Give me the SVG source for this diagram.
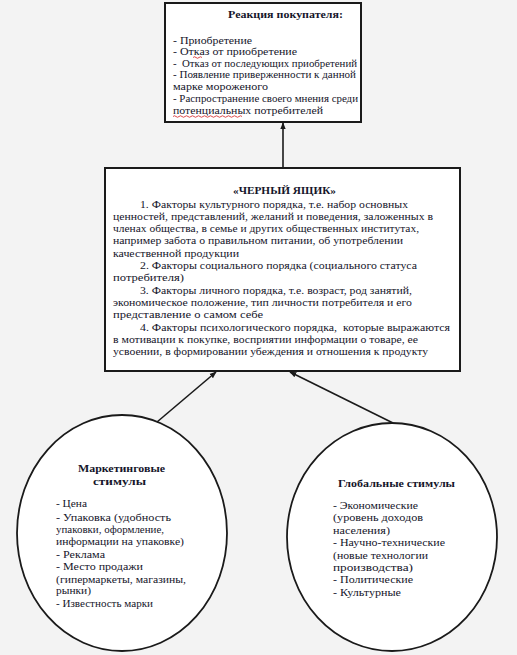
<svg xmlns="http://www.w3.org/2000/svg" width="517" height="655" viewBox="0 0 517 655" font-family="'Liberation Serif','DejaVu Serif',serif">
<defs>
<style>
.bg{fill:#f3f3f3}
.box{fill:#ffffff;stroke:#1a1a1a;stroke-width:2}
.ell{fill:#ffffff;stroke:#1a1a1a;stroke-width:1.8}
text{font-family:'Liberation Serif','DejaVu Serif',serif;font-size:10.5px;fill:#15152a}
.b{font-weight:bold}
.c{text-anchor:middle}
.con{stroke:#1a1a1a;stroke-width:1.6;fill:none;marker-end:url(#ah)}
</style>
<marker id="ah" viewBox="0 0 10 10" refX="9" refY="5" markerWidth="7" markerHeight="7" markerUnits="userSpaceOnUse" orient="auto">
<path d="M0,1 L10,5 L0,9 z" fill="#1a1a1a"/>
</marker>
</defs>
<rect class="bg" x="0" y="0" width="517" height="655"/>

<g id="reaction">
<rect class="box" x="165" y="3" width="196" height="119"/>
<text class="b" x="228" y="18" textLength="115" lengthAdjust="spacingAndGlyphs">Реакция покупателя:</text>
<text x="173" y="44" textLength="79" lengthAdjust="spacingAndGlyphs">- Приобретение</text>
<text x="173" y="55" textLength="124" lengthAdjust="spacingAndGlyphs">- Отказ от приобретение</text>
<text x="173" y="66.5" textLength="184" lengthAdjust="spacingAndGlyphs" xml:space="preserve">-  Отказ от последующих приобретений</text>
<text x="173" y="78" textLength="183" lengthAdjust="spacingAndGlyphs">- Появление приверженности к данной</text>
<text x="173" y="90" textLength="95" lengthAdjust="spacingAndGlyphs">марке мороженого</text>
<text x="173" y="102" textLength="185" lengthAdjust="spacingAndGlyphs">- Распространение своего мнения среди</text>
<text x="173" y="114" textLength="150" lengthAdjust="spacingAndGlyphs">потенциальных потребителей</text>
<path d="M173,116.5 q1.5,-1.5 3,0 t3,0 t3,0 t3,0 t3,0 t3,0 t3,0 t3,0 t3,0 t3,0 t3,0 t3,0 t3,0 t3,0 t3,0 t3,0 t3,0 t3,0 t3,0 t3,0 t3,0 t3,0 t3,0" fill="none" stroke="#d42020" stroke-width="0.8"/>
<path d="M193,57.5 q1.5,-1.5 3,0 t3,0 t3,0" fill="none" stroke="#d42020" stroke-width="0.8"/>
</g>

<g id="blackbox">
<rect class="box" x="105" y="168" width="355" height="203"/>
<text class="b" x="233" y="194" textLength="103" lengthAdjust="spacingAndGlyphs">«ЧЕРНЫЙ ЯЩИК»</text>
<text x="140" y="207.5" textLength="268" lengthAdjust="spacingAndGlyphs">1. Факторы культурного порядка, т.е. набор основных</text>
<text x="113" y="219.8" textLength="320" lengthAdjust="spacingAndGlyphs">ценностей, представлений, желаний и поведения, заложенных в</text>
<text x="113" y="232.1" textLength="306" lengthAdjust="spacingAndGlyphs">членах общества, в семье и других общественных институтах,</text>
<text x="113" y="244.4" textLength="290" lengthAdjust="spacingAndGlyphs">например забота о правильном питании, об употреблении</text>
<text x="113" y="256.7" textLength="126" lengthAdjust="spacingAndGlyphs">качественной продукции</text>
<text x="140" y="269" textLength="277" lengthAdjust="spacingAndGlyphs">2. Факторы социального порядка (социального статуса</text>
<text x="113" y="281.3" textLength="71" lengthAdjust="spacingAndGlyphs">потребителя)</text>
<text x="140" y="293.6" textLength="272" lengthAdjust="spacingAndGlyphs">3. Факторы личного порядка, т.е. возраст, род занятий,</text>
<text x="113" y="305.9" textLength="299" lengthAdjust="spacingAndGlyphs">экономическое положение, тип личности потребителя и его</text>
<text x="113" y="318.2" textLength="150" lengthAdjust="spacingAndGlyphs">представление о самом себе</text>
<text x="140" y="330.5" textLength="310" lengthAdjust="spacingAndGlyphs" xml:space="preserve">4. Факторы психологического порядка,  которые выражаются</text>
<text x="113" y="342.8" textLength="305" lengthAdjust="spacingAndGlyphs">в мотивации к покупке, восприятии информации о товаре, ее</text>
<text x="113" y="355.1" textLength="315" lengthAdjust="spacingAndGlyphs">усвоении, в формировании убеждения и отношения к продукту</text>
</g>

<g id="marketing">
<ellipse class="ell" cx="122" cy="533" rx="105" ry="118"/>
<text class="b" x="78" y="472" textLength="87" lengthAdjust="spacingAndGlyphs">Маркетинговые</text>
<text class="b" x="93" y="485" textLength="53" lengthAdjust="spacingAndGlyphs">стимулы</text>
<text x="56" y="507" textLength="31" lengthAdjust="spacingAndGlyphs">- Цена</text>
<text x="56" y="521" textLength="115" lengthAdjust="spacingAndGlyphs">- Упаковка (удобность</text>
<text x="56" y="533" textLength="108" lengthAdjust="spacingAndGlyphs">упаковки, оформление,</text>
<text x="56" y="545" textLength="128" lengthAdjust="spacingAndGlyphs">информации на упаковке)</text>
<text x="56" y="557.5" textLength="49" lengthAdjust="spacingAndGlyphs">- Реклама</text>
<text x="56" y="570" textLength="87" lengthAdjust="spacingAndGlyphs">- Место продажи</text>
<text x="56" y="582.5" textLength="130" lengthAdjust="spacingAndGlyphs">(гипермаркеты, магазины,</text>
<text x="56" y="594" textLength="35" lengthAdjust="spacingAndGlyphs">рынки)</text>
<text x="56" y="606.5" textLength="97" lengthAdjust="spacingAndGlyphs">- Известность марки</text>
</g>

<g id="global">
<ellipse class="ell" cx="392" cy="537" rx="105" ry="114"/>
<text class="b" x="338" y="487" textLength="117" lengthAdjust="spacingAndGlyphs">Глобальные стимулы</text>
<text x="333" y="508.5" textLength="85" lengthAdjust="spacingAndGlyphs">- Экономические</text>
<text x="333" y="521" textLength="90" lengthAdjust="spacingAndGlyphs">(уровень доходов</text>
<text x="333" y="533.5" textLength="57" lengthAdjust="spacingAndGlyphs">населения)</text>
<text x="333" y="546" textLength="112" lengthAdjust="spacingAndGlyphs">- Научно-технические</text>
<text x="333" y="558.5" textLength="95" lengthAdjust="spacingAndGlyphs">(новые технологии</text>
<text x="333" y="570.5" textLength="80" lengthAdjust="spacingAndGlyphs">производства)</text>
<text x="333" y="583" textLength="80" lengthAdjust="spacingAndGlyphs">- Политические</text>
<text x="333" y="596" textLength="68" lengthAdjust="spacingAndGlyphs">- Культурные</text>
</g>

<g id="connectors">
<line class="con" x1="283" y1="167" x2="283" y2="123"/>
<line class="con" x1="157" y1="422" x2="216" y2="372"/>
<line class="con" x1="393" y1="423" x2="290" y2="372"/>
</g>
</svg>
